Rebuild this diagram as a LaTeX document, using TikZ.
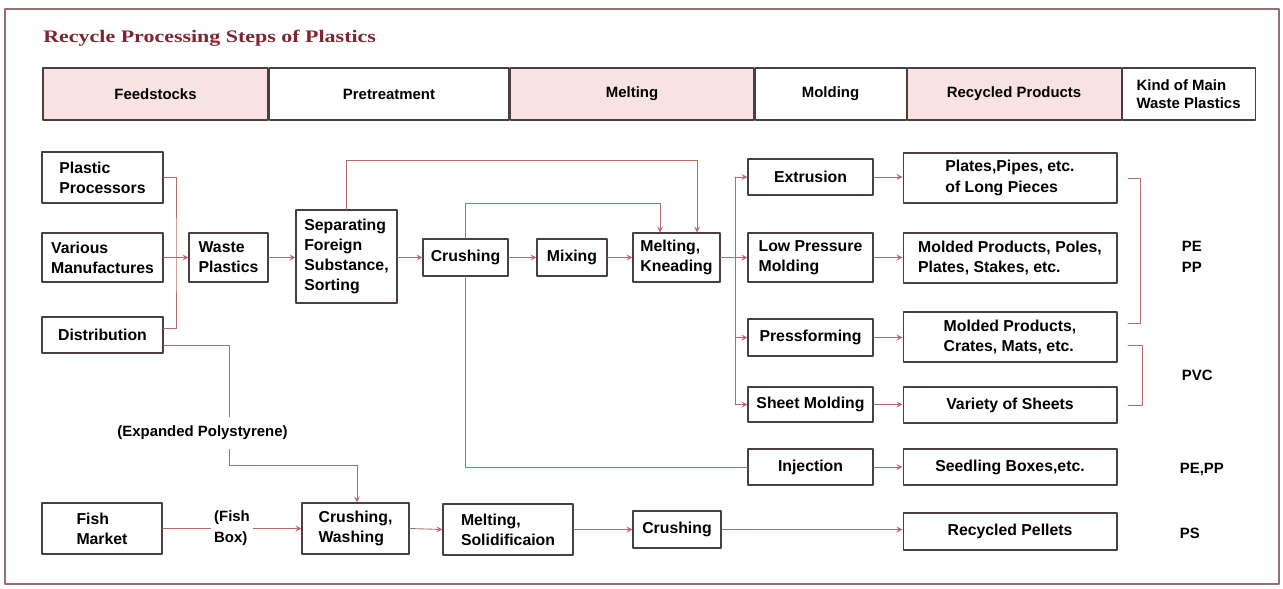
\documentclass[tikz,border=0pt]{standalone}
\usepackage{fontspec}
\setmainfont{Liberation Sans}
\newfontfamily\titlefont[FakeStretch=1.25]{Liberation Serif}
\usetikzlibrary{positioning}
\definecolor{hdrpink}{RGB}{248,226,228}
\definecolor{boxline}{RGB}{75,62,62}
\definecolor{connred}{RGB}{185,105,105}
\definecolor{titlered}{RGB}{128,36,48}
\definecolor{framecol}{RGB}{150,112,112}
\tikzset{
  box/.style={draw=boxline,line width=0.6pt,inner sep=2pt,align=left,font=\bfseries\fontsize{9}{11.5}\selectfont},
  hdr/.style={box,minimum height=1.04cm,font=\bfseries\fontsize{8.5}{10.5}\selectfont},
  pinkhdr/.style={hdr,fill=hdrpink},
  conn/.style={draw=connred,line width=0.5pt},
  lbl/.style={inner sep=2pt,align=left,font=\bfseries\fontsize{8.5}{12}\selectfont},
}
\begin{document}
\begin{tikzpicture}[x=0.02cm,y=-0.02cm,>=stealth,line join=round,line cap=round]
\useasboundingbox (0,0) rectangle (1283,588);
\draw[draw=framecol,line width=0.8pt] (5,9) rectangle (1279,584);
\node[anchor=west,inner sep=0pt,text=titlered,font=\titlefont\bfseries\fontsize{10}{12}\selectfont] (title) at (43,38) {Recycle Processing Steps of Plastics};
% header row
\node[pinkhdr,minimum width=4.5cm] (hfeed) at (155.5,94) {Feedstocks};
\node[hdr,minimum width=4.8cm,right=0pt of hfeed] (hpre) {Pretreatment};
\node[pinkhdr,minimum width=4.88cm,right=0pt of hpre] (hmelt) {Melting};
\node[hdr,minimum width=3.02cm,right=0pt of hmelt] (hmold) {Molding};
\node[pinkhdr,minimum width=4.28cm,right=0pt of hmold] (hprod) {Recycled Products};
\node[hdr,minimum width=2.66cm,right=0pt of hprod] (hkind) {Kind of Main\\Waste Plastics};
% feedstocks and pretreatment
\node[box,minimum width=2.42cm,minimum height=1.02cm] (pproc) at (102.5,177.5) {Plastic\\Processors};
\node[box,minimum width=2.42cm,minimum height=0.98cm] (vman) at (102.5,257.5) {Various\\Manufactures};
\node[box,minimum width=2.42cm,minimum height=0.72cm] (distr) at (102.5,335) {Distribution};
\node[box,minimum width=1.58cm,minimum height=0.98cm] (waste) at (228.5,257.5) {Waste\\Plastics};
\node[box,minimum width=2.02cm,minimum height=1.86cm] (sep) at (346.5,256.5) {Separating\\Foreign\\Substance,\\Sorting};
\node[box,minimum width=1.7cm,minimum height=0.74cm] (crush) at (465.5,257.5) {Crushing};
\node[box,minimum width=1.4cm,minimum height=0.74cm] (mix) at (572,257.5) {Mixing};
\node[box,minimum width=1.74cm,minimum height=0.98cm] (knead) at (676.5,257.5) {Melting,\\Kneading};
% molding
\node[box,minimum width=2.5cm,minimum height=0.72cm] (extr) at (810.5,177) {Extrusion};
\node[box,minimum width=2.5cm,minimum height=0.98cm] (lowp) at (810.5,257.5) {Low Pressure\\Molding};
\node[box,minimum width=2.5cm,minimum height=0.74cm] (press) at (810.5,337.5) {Pressforming};
\node[box,minimum width=2.5cm,minimum height=0.70cm] (sheet) at (810.5,404.5) {Sheet Molding};
\node[box,minimum width=2.5cm,minimum height=0.72cm] (inj) at (810.5,467) {Injection};
% recycled products
\node[box,minimum width=4.28cm,minimum height=1.0cm] (pipes) at (1010,178) {Plates,Pipes, etc.\\of Long Pieces};
\node[box,minimum width=4.28cm,minimum height=1.0cm] (poles) at (1010,258) {Molded Products, Poles,\\Plates, Stakes, etc.};
\node[box,minimum width=4.28cm,minimum height=1.0cm] (crates) at (1010,337) {Molded Products,\\Crates, Mats, etc.};
\node[box,minimum width=4.28cm,minimum height=0.72cm] (sheets) at (1010,405) {Variety of Sheets};
\node[box,minimum width=4.28cm,minimum height=0.72cm] (seed) at (1010,467) {Seedling Boxes,etc.};
\node[box,minimum width=4.28cm,minimum height=0.74cm] (pellets) at (1010,531.5) {Recycled Pellets};
% polystyrene line
\node[box,minimum width=2.4cm,minimum height=1.02cm] (fish) at (102,528.5) {Fish\\Market};
\node[box,minimum width=2.14cm,minimum height=1.02cm] (wash) at (355.5,528.5) {Crushing,\\Washing};
\node[box,minimum width=2.6cm,minimum height=1.02cm] (solid) at (508,529.5) {Melting,\\Solidificaion};
\node[box,minimum width=1.76cm,minimum height=0.74cm] (crushb) at (677,529.5) {Crushing};
% connectors
\coordinate (bus) at (176,257.5);
\draw[conn] (pproc.east) -| (bus) |- ([yshift=0.14cm]distr.east);
\draw[conn,->] (vman.east) -- (waste.west);
\draw[conn,->] (waste.east) -- (waste.east -| sep.west);
\draw[conn,->] (sep.east |- crush) -- (crush.west);
\draw[conn,->] (crush.east) -- (mix.west);
\draw[conn,->] (mix.east) -- (mix.east -| knead.west);
\coordinate (loopa) at (697,160);
\coordinate (loopb) at (660,203);
\draw[conn,->] (sep.north) |- (loopa) -- (loopa |- knead.north);
\draw[conn,->] (crush.north) |- (loopb) -- (loopb |- knead.north);
\coordinate (fork) at (735,257.5);
\draw[conn] (knead.east) -- (fork);
\draw[conn] (fork |- extr) -- (fork |- sheet);
\foreach \m in {extr,lowp,press,sheet}
  \draw[conn,->] (fork |- \m) -- (\m.west);
\foreach \m/\p in {extr/pipes,lowp/poles,press/crates,sheet/sheets,inj/seed}
  \draw[conn,->] (\m.east) -- (\m.east -| \p.west);
\draw[conn] (crush.south) |- (inj.west);
\coordinate (epsa) at (229,465);
\coordinate (epsb) at (357,465);
\draw[conn] ([yshift=-0.2cm]distr.east) -| (epsa) -- (epsb);
\draw[conn,->] (epsb) -- (epsb |- wash.north);
\node[lbl,fill=white,inner ysep=5pt] (eps) at (202.5,433) {(Expanded Polystyrene)};
\draw[conn,->] (fish.east) -- node[lbl,fill=white] (fishbox) {(Fish\\Box)} (wash.west);
\draw[conn,->] (wash.east) -- (solid.west);
\draw[conn,->] (solid.east) -- (solid.east -| crushb.west);
\draw[conn,->] (crushb.east) -- (crushb.east -| pellets.west);
% kinds of plastics
\draw[conn] (1128,178) -| (1140,323) -- (1128,323);
\draw[conn] (1128,345) -| (1142,405) -- (1128,405);
\node[lbl,anchor=west] (pepp) at (1178,257) {PE\\PP};
\node[lbl,anchor=west] (pvc) at (1178,375) {PVC};
\node[lbl,anchor=west] (peppb) at (1176,470) {PE,PP};
\node[lbl,anchor=west] (ps) at (1176,533) {PS};
\end{tikzpicture}
\end{document}
